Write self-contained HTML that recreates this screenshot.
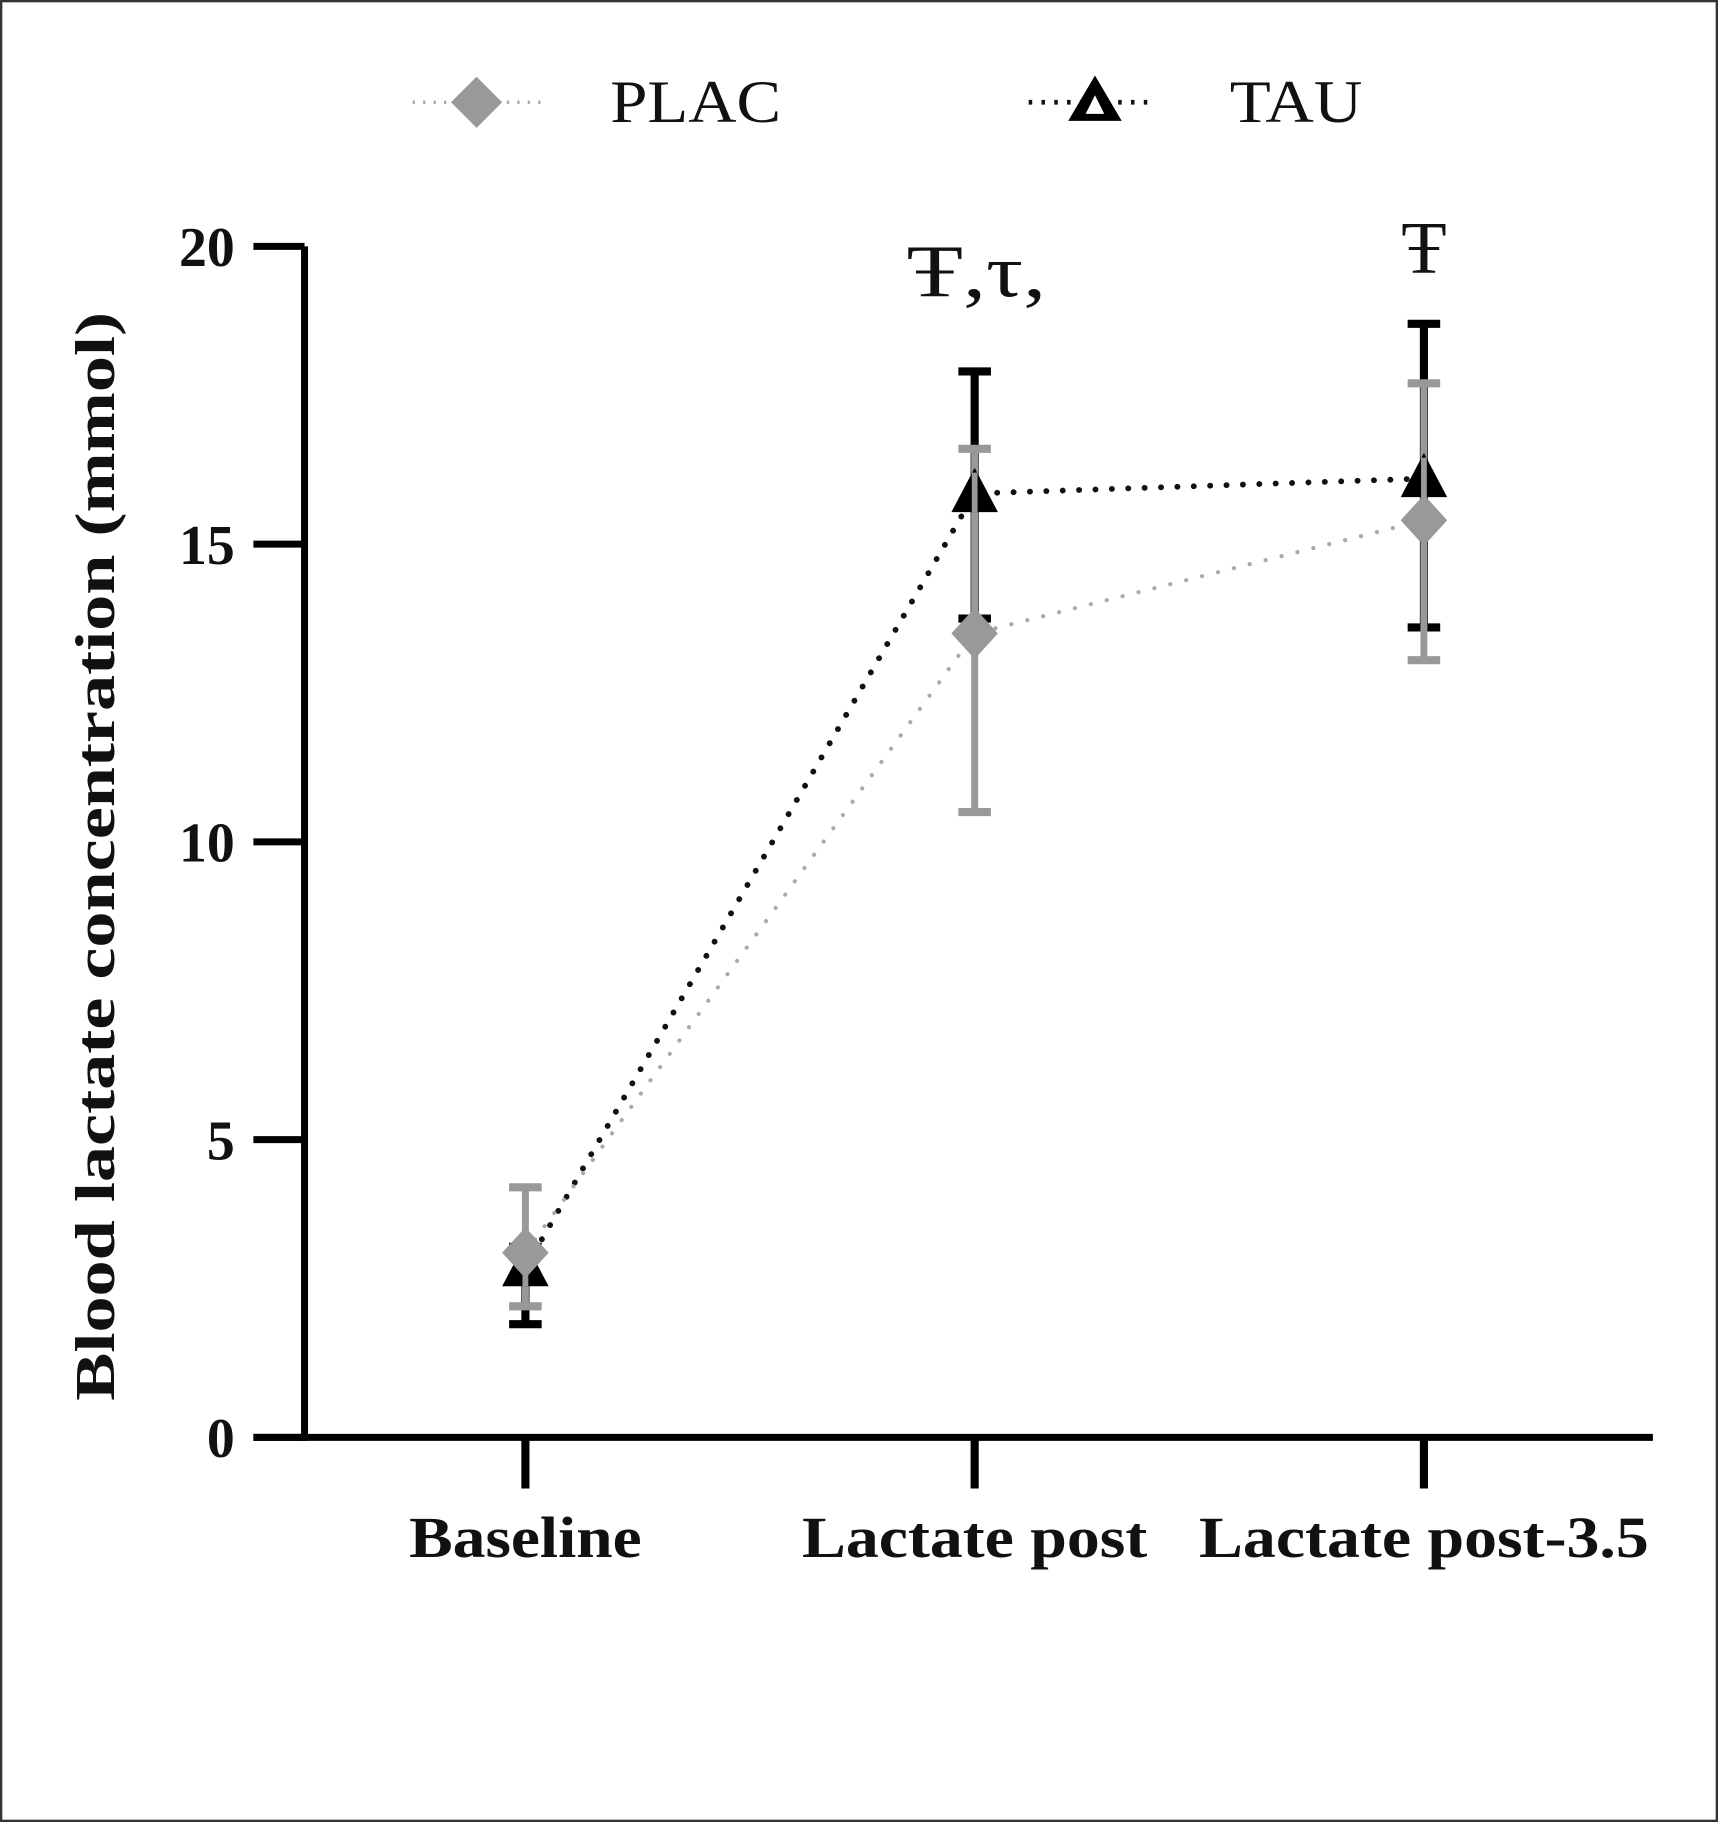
<!DOCTYPE html>
<html><head><meta charset="utf-8"><style>
html,body{margin:0;padding:0;background:#fff}
svg{display:block}
text{font-family:"Liberation Serif",serif}
</style></head><body>
<svg id="chart" width="1718" height="1822" viewBox="0 0 1478 1568" preserveAspectRatio="none" xmlns="http://www.w3.org/2000/svg">
<rect x="1" y="1" width="1476" height="1566" fill="#fff" stroke="#333" stroke-width="2"/>
<g id="legend">
  <g>
    <line x1="355" y1="88" x2="465" y2="88" stroke="#aaa" stroke-width="3" stroke-dasharray="2,7"/>
    <polygon points="410,66 432,88 410,110 388,88" fill="#999"/>
    <text x="525" y="105" font-size="52" textLength="147" lengthAdjust="spacingAndGlyphs" fill="#111">PLAC</text>
  </g>
  <g>
    <line x1="885" y1="88" x2="995" y2="88" stroke="#111" stroke-width="4" stroke-dasharray="3,8"/>
    <polygon points="942,65 965,104 919,104" fill="#000"/>
    <polygon points="942,82 950,98 934,98" fill="#fff"/>
    <text x="1058" y="105" font-size="52" textLength="114" lengthAdjust="spacingAndGlyphs" fill="#111">TAU</text>
  </g>
</g>
<g id="axes"></g>
<g id="marks"></g>
<text transform="translate(98,737) rotate(-90)" text-anchor="middle" font-size="48" font-weight="bold" textLength="937" lengthAdjust="spacingAndGlyphs" fill="#111">Blood lactate concentration (mmol)</text>
<text x="780" y="255" font-size="64" textLength="120" lengthAdjust="spacingAndGlyphs" fill="#111">Ŧ,τ,</text>
<text x="1225" y="235" text-anchor="middle" font-size="64" fill="#111">Ŧ</text>
</svg>
<script>
const categories = ["Baseline", "Lactate post", "Lactate post-3.5"];
const yTicks = [0, 5, 10, 15, 20];
const placMean = [3.1, 13.5, 15.4];
const placLow = [2.2, 10.5, 13.05];
const placHigh = [4.2, 16.6, 17.7];
const tauMean = [2.85, 15.85, 16.1];
const tauLow = [1.9, 13.75, 13.6];
const tauHigh = [3.2, 17.9, 18.7];

const NS = "http://www.w3.org/2000/svg";
const y = v => 1237 - v * (1237 - 212) / 20;
const x = i => 452 + i * 386.5;
const labelWidths = [200, 297, 387];
function mk(tag, attrs, parent) {
  const e = document.createElementNS(NS, tag);
  for (const k in attrs) e.setAttribute(k, attrs[k]);
  parent.appendChild(e);
  return e;
}
const axes = document.getElementById("axes");
const marks = document.getElementById("marks");

let yl = mk("line", {x1: 262, y1: y(20), x2: 262, y2: y(0) + 3, stroke: "#000", "stroke-width": 6}, axes);


let xl = mk("line", {x1: 218, y1: y(0), x2: 1422, y2: y(0), stroke: "#000", "stroke-width": 6}, axes);



yTicks.forEach(t => {
  let tk = mk("line", {x1: 218, y1: y(t), x2: 262, y2: y(t), stroke: "#000", "stroke-width": 6}, axes);
  
  
  let tl = mk("text", {x: 202, y: y(t) + 17, "text-anchor": "end", "font-size": 48, "font-weight": "bold", fill: "#111"}, axes);
  tl.textContent = t;
  
  
});
categories.forEach((c, i) => {
  let tk = mk("line", {x1: x(i), y1: y(0), x2: x(i), y2: 1281, stroke: "#000", "stroke-width": 7}, axes);
  
  
  let tl = mk("text", {x: x(i) - labelWidths[i] / 2, y: 1340, "font-size": 50, "font-weight": "bold", fill: "#111", textLength: labelWidths[i], lengthAdjust: "spacingAndGlyphs"}, axes);
  tl.textContent = c;
  
  
});

function errBars(low, high, color, w, cap, name) {
  low.forEach((l, i) => {
    const g = mk("g", {}, marks);
    
    
    mk("line", {x1: x(i), y1: y(l), x2: x(i), y2: y(high[i]), stroke: color, "stroke-width": w}, g);
    mk("line", {x1: x(i) - cap, y1: y(l), x2: x(i) + cap, y2: y(l), stroke: color, "stroke-width": 7}, g);
    mk("line", {x1: x(i) - cap, y1: y(high[i]), x2: x(i) + cap, y2: y(high[i]), stroke: color, "stroke-width": 7}, g);
  });
}
errBars(tauLow, tauHigh, "#000", 7, 14, "tau-error-bar");
errBars(placLow, placHigh, "#999", 6, 14, "plac-error-bar");

let tp = mk("polyline", {points: tauMean.map((v, i) => x(i) + "," + y(v)).join(" "), fill: "none", stroke: "#111", "stroke-width": 5, "stroke-dasharray": "0.1,14", "stroke-linecap": "round"}, marks);


let pp = mk("polyline", {points: placMean.map((v, i) => x(i) + "," + y(v)).join(" "), fill: "none", stroke: "#aaa", "stroke-width": 3.5, "stroke-dasharray": "0.1,14", "stroke-linecap": "round"}, marks);



tauMean.forEach((v, i) => {
  const cx = x(i), cy = y(v);
  let t = mk("polygon", {points: `${cx},${cy - 22} ${cx + 20},${cy + 16} ${cx - 20},${cy + 16}`, fill: "#000"}, marks);
  
  
  mk("line", {x1: cx, y1: cy - 18, x2: cx, y2: cy + 16, stroke: "#999", "stroke-width": 5}, marks);
});
placMean.forEach((v, i) => {
  const cx = x(i), cy = y(v);
  let d = mk("polygon", {points: `${cx},${cy - 22} ${cx + 20},${cy} ${cx},${cy + 22} ${cx - 20},${cy}`, fill: "#999"}, marks);
  
  
});
</script>
</body></html>
